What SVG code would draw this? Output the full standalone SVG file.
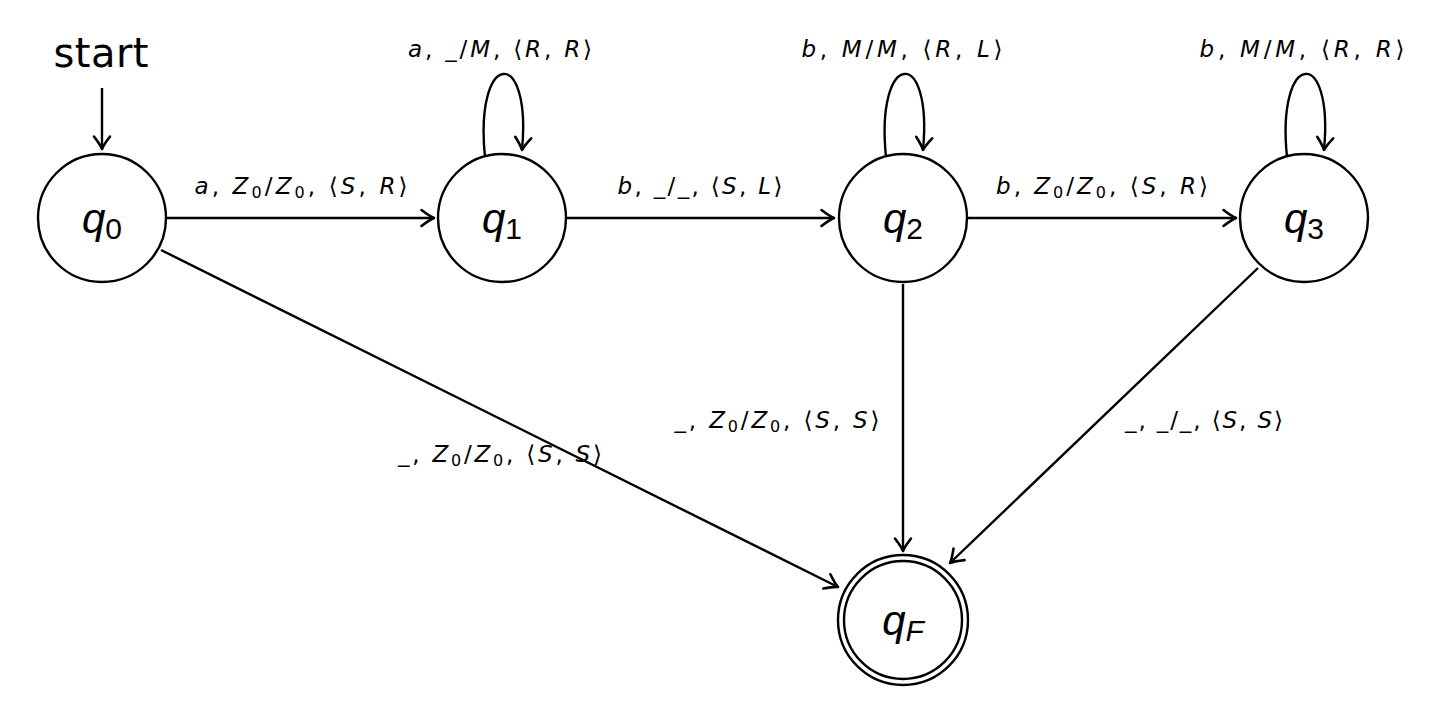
<svg xmlns="http://www.w3.org/2000/svg" width="1455" height="716" viewBox="0 0 1455 716">
<defs>
<marker id="arr" viewBox="-15 -10 17 20" refX="0" refY="0" markerWidth="17" markerHeight="20" markerUnits="userSpaceOnUse" orient="auto">
<path d="M -12.5 -8 Q -4 -1.5 0 0 Q -4 1.5 -12.5 8" fill="none" stroke="#000" stroke-width="2.6" stroke-linecap="round" stroke-linejoin="round"/>
</marker>
</defs>
<style>
.st{fill:#fff;stroke:#000;stroke-width:2.4}
.e{fill:none;stroke:#000;stroke-width:2.4;marker-end:url(#arr)}
.nl{font-family:"Liberation Sans",sans-serif;font-size:42px;font-style:italic;text-anchor:middle}
.sub{font-style:normal;font-size:30px}
.subi{font-style:italic;font-size:30px}
.lb{font-family:"DejaVu Sans",sans-serif;font-size:23px;text-anchor:middle}
.i{font-style:italic}
.ls{font-size:16px}
.start{font-family:"DejaVu Sans",sans-serif;font-size:40px;text-anchor:middle}
</style>
<rect width="1455" height="716" fill="#fff"/>
<g id="connectors">
<path class="e" d="M 102 88 L 102 149"/>
<path class="e" d="M 166 218 L 434 218"/>
<path class="e" d="M 566 218 L 834 218"/>
<path class="e" d="M 967 218 L 1236 218"/>
<path class="e" d="M 161 250 L 838 587"/>
<path class="e" d="M 903 284 L 903 551"/>
<path class="e" d="M 1258 268 L 950 563"/>
<path class="e" d="M 485 157 C 474 50 532 45 522 150"/>
<path class="e" d="M 886 157 C 875 50 933 45 923 150"/>
<path class="e" d="M 1287 157 C 1276 50 1334 45 1324 150"/>
</g>
<g id="start"><text class="start" x="101" y="67" textLength="95" lengthAdjust="spacing">start</text></g>
<g id="q0"><circle class="st" cx="102" cy="218" r="64"/><text class="nl" x="102" y="233">q<tspan class="sub" dy="6">0</tspan></text></g>
<g id="q1"><circle class="st" cx="502" cy="218" r="64"/><text class="nl" x="502" y="233">q<tspan class="sub" dy="6">1</tspan></text></g>
<g id="q2"><circle class="st" cx="903" cy="218" r="64"/><text class="nl" x="903" y="233">q<tspan class="sub" dy="6">2</tspan></text></g>
<g id="q3"><circle class="st" cx="1304" cy="218" r="64"/><text class="nl" x="1304" y="233">q<tspan class="sub" dy="6">3</tspan></text></g>
<g id="qF"><circle class="st" cx="903" cy="620" r="65"/><circle class="st" cx="903" cy="620" r="59"/><text class="nl" x="903" y="635">q<tspan class="subi" dy="6">F</tspan></text></g>
<g id="labels">
<text class="lb" x="500" y="57" textLength="184" lengthAdjust="spacing"><tspan class="i">a</tspan>, _/<tspan class="i">M</tspan>, ⟨<tspan class="i">R</tspan>, <tspan class="i">R</tspan>⟩</text>
<text class="lb" x="902" y="57" textLength="201" lengthAdjust="spacing"><tspan class="i">b</tspan>, <tspan class="i">M</tspan>/<tspan class="i">M</tspan>, ⟨<tspan class="i">R</tspan>, <tspan class="i">L</tspan>⟩</text>
<text class="lb" x="1302" y="57" textLength="205" lengthAdjust="spacing"><tspan class="i">b</tspan>, <tspan class="i">M</tspan>/<tspan class="i">M</tspan>, ⟨<tspan class="i">R</tspan>, <tspan class="i">R</tspan>⟩</text>
<text class="lb" x="301" y="194" textLength="213" lengthAdjust="spacing"><tspan class="i">a</tspan>, <tspan class="i">Z</tspan><tspan class="ls" dy="4">0</tspan><tspan dy="-4">/</tspan><tspan class="i">Z</tspan><tspan class="ls" dy="4">0</tspan><tspan dy="-4">, ⟨</tspan><tspan class="i">S</tspan>, <tspan class="i">R</tspan>⟩</text>
<text class="lb" x="700" y="194" textLength="165" lengthAdjust="spacing"><tspan class="i">b</tspan>, _/_, ⟨<tspan class="i">S</tspan>, <tspan class="i">L</tspan>⟩</text>
<text class="lb" x="1102" y="194" textLength="212" lengthAdjust="spacing"><tspan class="i">b</tspan>, <tspan class="i">Z</tspan><tspan class="ls" dy="4">0</tspan><tspan dy="-4">/</tspan><tspan class="i">Z</tspan><tspan class="ls" dy="4">0</tspan><tspan dy="-4">, ⟨</tspan><tspan class="i">S</tspan>, <tspan class="i">R</tspan>⟩</text>
<text class="lb" x="777" y="428" textLength="205" lengthAdjust="spacing">_, <tspan class="i">Z</tspan><tspan class="ls" dy="4">0</tspan><tspan dy="-4">/</tspan><tspan class="i">Z</tspan><tspan class="ls" dy="4">0</tspan><tspan dy="-4">, ⟨</tspan><tspan class="i">S</tspan>, <tspan class="i">S</tspan>⟩</text>
<text class="lb" x="500" y="462" textLength="204" lengthAdjust="spacing">_, <tspan class="i">Z</tspan><tspan class="ls" dy="4">0</tspan><tspan dy="-4">/</tspan><tspan class="i">Z</tspan><tspan class="ls" dy="4">0</tspan><tspan dy="-4">, ⟨</tspan><tspan class="i">S</tspan>, <tspan class="i">S</tspan>⟩</text>
<text class="lb" x="1204" y="428" textLength="158" lengthAdjust="spacing">_, _/_, ⟨<tspan class="i">S</tspan>, <tspan class="i">S</tspan>⟩</text>
</g>
</svg>
